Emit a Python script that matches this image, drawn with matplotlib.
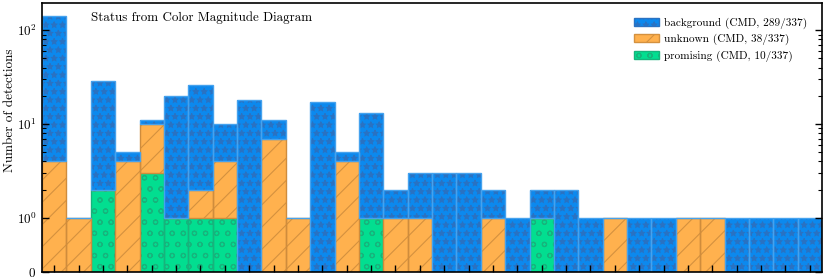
import matplotlib
matplotlib.use("Agg")
import matplotlib.pyplot as plt
from matplotlib.patches import Patch
import numpy as np

plt.rcParams["font.family"] = "serif"
plt.rcParams["font.serif"] = ["cmr10"]
plt.rcParams["mathtext.fontset"] = "cm"
plt.rcParams["axes.formatter.use_mathtext"] = True
plt.rcParams["hatch.linewidth"] = 0.4

# counts per bin (32 bins), stacked: promising at bottom, unknown, background on top
promising = [0, 0, 2, 0, 3, 1, 1, 1, 0, 0, 0, 0, 0, 1, 0, 0,
             0, 0, 0, 0, 1, 0, 0, 0, 0, 0, 0, 0, 0, 0, 0, 0]
unknown = [4, 1, 0, 4, 7, 0, 1, 3, 0, 7, 1, 0, 4, 0, 1, 1,
           0, 0, 1, 0, 0, 0, 0, 1, 0, 0, 1, 1, 0, 0, 0, 0]
background = [138, 0, 27, 1, 1, 19, 24, 6, 18, 4, 0, 17, 1, 12, 1, 2,
              3, 3, 1, 1, 1, 2, 1, 0, 1, 1, 0, 0, 1, 1, 1, 1]
labels = ["background (CMD, 289/337)", "unknown (CMD, 38/337)", "promising (CMD, 10/337)"]
title = "Status from Color Magnitude Diagram"

styles = {
    "background": dict(face="#0c89ee", hatch="****", hcol="#2a72c2", edge="#45a2ee"),
    "unknown": dict(face="#ffb14e", hatch="///", hcol="#d4913f", edge="#cf8c3c"),
    "promising": dict(face="#02de90", hatch="ooo", hcol="#16b47c", edge="#17b37c"),
}

fig = plt.figure(figsize=(4.15, 1.385), dpi=200)
ax = fig.add_axes([0.0506, 0.018, 0.9398, 0.971])

x = np.arange(len(background)) + 0.5
p = np.array(promising)
u = np.array(unknown)
b = np.array(background)

layers = [("promising", p, 0), ("unknown", u, p), ("background", b, p + u)]
for name, h, bottom in layers:
    st = styles[name]
    ax.bar(x, h, width=1.0, bottom=bottom, color=st["face"], hatch=st["hatch"],
           edgecolor=st["hcol"], linewidth=0)
    ax.bar(x, h, width=1.0, bottom=bottom, fill=False, edgecolor=st["edge"], linewidth=0.5)

ax.set_yscale("symlog", linthresh=1, linscale=0.52, subs=[2, 3, 4, 5, 6, 7, 8, 9])
ax.set_ylim(0, 195)
ax.set_xlim(0, len(background))
ax.set_xticks(x)
ax.set_xticklabels([])
ax.set_ylabel("Number of detections", fontsize=4.75)
ax.yaxis.set_label_coords(-0.033, 0.6)

ax.tick_params(axis="y", which="both", direction="in", left=True, right=True, labelsize=4.7, pad=2)
ax.tick_params(axis="y", which="major", length=2.6, width=0.5)
ax.tick_params(axis="y", which="minor", length=1.4, width=0.4)
ax.tick_params(axis="x", which="major", direction="in", length=2.4, width=0.5, top=False)
ax.tick_params(axis="x", which="minor", bottom=False, top=False)
for s in ax.spines.values():
    s.set_linewidth(0.6)

ax.text(0.063, 0.945, title, transform=ax.transAxes, fontsize=4.7, va="center", ha="left")

handles = [Patch(facecolor=styles[k]["face"], hatch=styles[k]["hatch"], edgecolor=styles[k]["hcol"], linewidth=0.5)
           for k in ["background", "unknown", "promising"]]
ax.legend(handles, labels, loc="upper right", frameon=False, fontsize=4.05,
          handlelength=2.2, handleheight=0.7, handletextpad=0.5, labelspacing=0.45,
          borderaxespad=0.9)

fig.savefig("out.png", dpi=200)
